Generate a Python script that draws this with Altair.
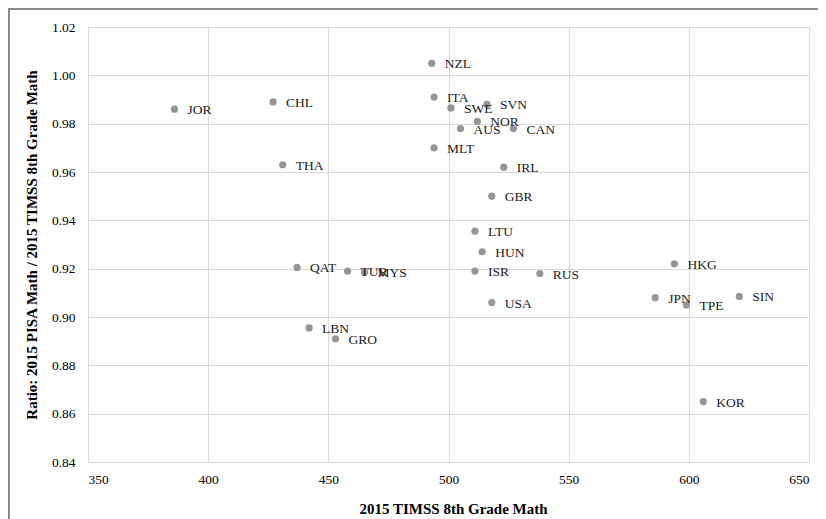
import altair as alt
import pandas as pd

countries = ["JOR", "CHL", "THA", "NZL", "ITA", "SWE", "SVN", "NOR", "AUS", "CAN",
             "MLT", "IRL", "GBR", "LTU", "HUN", "ISR", "RUS", "USA", "HKG", "JPN",
             "TPE", "SIN", "KOR", "QAT", "TUR", "MYS", "LBN", "GRO"]
timss = [386, 427, 431, 493, 494, 501, 516, 512, 505, 527,
         494, 523, 518, 511, 514, 511, 538, 518, 594, 586,
         599, 621, 606, 437, 458, 465, 442, 453]
ratio = [0.986, 0.989, 0.963, 1.005, 0.991, 0.9865, 0.988, 0.981, 0.978, 0.978,
         0.970, 0.962, 0.950, 0.9355, 0.927, 0.919, 0.918, 0.906, 0.922, 0.908,
         0.905, 0.9085, 0.865, 0.9205, 0.919, 0.9185, 0.8955, 0.891]

x_ticks = [350, 400, 450, 500, 550, 600, 650]
y_ticks = [0.84, 0.86, 0.88, 0.90, 0.92, 0.94, 0.96, 0.98, 1.00, 1.02]

df = pd.DataFrame({"country": countries, "timss": timss, "ratio": ratio})

W, H = 721, 435
PL, PT, PR, PB = 80, 19, 9, 57
SERIF = "Liberation Serif"

x_enc = alt.X("timss:Q",
              scale=alt.Scale(domain=[350, 650], nice=False, zero=False),
              axis=alt.Axis(values=x_ticks, title="2015 TIMSS 8th Grade Math",
                            ticks=False, labelPadding=10,
                            titleX=365, titleY=46, titleBaseline="middle"))
y_enc = alt.Y("ratio:Q",
              scale=alt.Scale(domain=[0.84, 1.02], nice=False, zero=False),
              axis=alt.Axis(values=y_ticks, format=".2f",
                            title="Ratio: 2015 PISA Math / 2015 TIMSS 8th Grade Math",
                            ticks=False, labelPadding=13,
                            titleX=-57, titleY=H / 2, titleBaseline="middle"))

base = alt.Chart(df).encode(x=x_enc, y=y_enc)

points = base.mark_circle(size=52, color="#959595", opacity=1)
labels = base.mark_text(align="left", baseline="middle", dx=13, dy=1,
                        font=SERIF, fontSize=13.5, color="#1a1a1a").encode(text="country:N")

top_line = alt.Chart(df).mark_rule(color="#8a8a8a", strokeWidth=2).encode(
    x=alt.value(-PL), x2=alt.value(W + PR), y=alt.value(-18))
left_line = alt.Chart(df).mark_rule(color="#8a8a8a", strokeWidth=2).encode(
    x=alt.value(-PL + 1), y=alt.value(-18), y2=alt.value(H + PB))

chart = alt.layer(points, labels, top_line, left_line).properties(
    width=W, height=H,
    autosize=alt.AutoSizeParams(type="none"),
    padding={"left": PL, "top": PT, "right": PR, "bottom": PB},
).configure_view(stroke=None).configure_axis(
    grid=True, gridColor="#d9d9d9", domainColor="#d9d9d9",
    labelFont=SERIF, labelFontSize=13.5, labelColor="#000000",
    titleFont=SERIF, titleFontSize=15, titleFontWeight="bold", titleColor="#000000",
)

chart.save("out.html", embed_options={"renderer": "svg", "actions": False})
